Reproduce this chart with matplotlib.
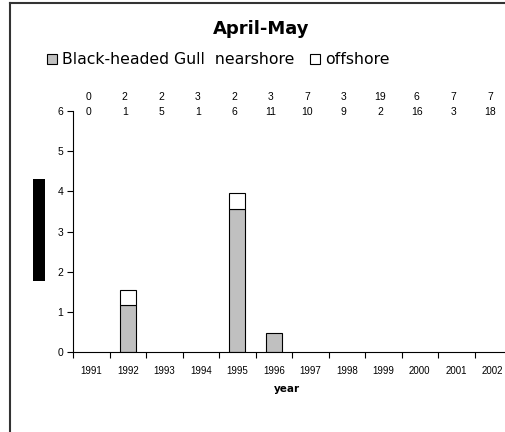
import matplotlib
matplotlib.use("Agg")
import matplotlib.pyplot as plt
from matplotlib.patches import Patch, Rectangle
from matplotlib.lines import Line2D
import matplotlib.transforms as mtransforms

years = ["1991", "1992", "1993", "1994", "1995", "1996", "1997", "1998", "1999", "2000", "2001", "2002"]
nearshore = [0, 1.17, 0, 0, 3.57, 0.48, 0, 0, 0, 0, 0, 0]
offshore = [0, 0.37, 0, 0, 0.39, 0, 0, 0, 0, 0, 0, 0]
top_row1 = ["0", "2", "2", "3", "2", "3", "7", "3", "19", "6", "7", "7"]
top_row2 = ["0", "1", "5", "1", "6", "11", "10", "9", "2", "16", "3", "18"]
yticks = [0, 1, 2, 3, 4, 5, 6]

plt.rcParams['font.family'] = ['Liberation Sans', 'DejaVu Sans']
WIDE = ['DejaVu Sans']

W, H = 505, 432
fig = plt.figure(figsize=(W / 100, H / 100), dpi=100)
ax = fig.add_axes([73 / W, 80 / H, 438 / W, 241 / H])

x = list(range(len(years)))
bw = 0.43
ax.bar(x, nearshore, width=bw, color="#C0C0C0", edgecolor="black", linewidth=0.8, zorder=2)
ax.bar(x, offshore, width=bw, bottom=nearshore, color="white", edgecolor="black", linewidth=0.8, zorder=2)
for p in ax.patches:
    if p.get_height() == 0:
        p.set_visible(False)

ax.set_xlim(-0.5, len(years) - 0.5)
ax.set_ylim(0, 6)
ax.set_yticks(yticks)
ax.set_yticklabels([str(v) for v in yticks], fontsize=7.5)
ax.set_xticks(x)
ax.set_xticklabels(years, fontsize=7)
ax.set_xticks([i - 0.5 for i in range(len(years) + 1)], minor=True)
ax.tick_params(axis='x', which='major', length=0, pad=10)
ax.tick_params(axis='x', which='minor', length=4, direction='out', width=0.8)
ax.tick_params(axis='y', length=4, direction='out', width=0.8, pad=3)
for s in ['top', 'right']:
    ax.spines[s].set_visible(False)
for s in ['left', 'bottom']:
    ax.spines[s].set_linewidth(0.8)

trans = mtransforms.blended_transform_factory(ax.transData, ax.transAxes)
for i in x:
    ax.text(i - 0.08, (352 - 97) / 241, top_row1[i], transform=trans, ha='center', va='center', fontsize=7.5, clip_on=False)
    ax.text(i - 0.08, (352 - 112) / 241, top_row2[i], transform=trans, ha='center', va='center', fontsize=7.5, clip_on=False)

fig.text(261 / W, 1 - 29 / H, "April-May", fontsize=13, fontweight='bold', ha='center', va='center', family=WIDE)
fig.text(287 / W, 1 - 389 / H, "year", fontsize=7.5, fontweight='bold', ha='center', va='center', family=WIDE)

handles = [Patch(facecolor="#C0C0C0", edgecolor="black", linewidth=0.8),
           Patch(facecolor="white", edgecolor="black", linewidth=0.8)]
leg = fig.legend(handles, ["Black-headed Gull  nearshore", "offshore"], loc='center left',
                 bbox_to_anchor=(47 / W, 1 - 60 / H), ncol=2, frameon=False,
                 prop={'family': WIDE, 'size': 11.3},
                 handlelength=0.62, handleheight=0.62, handletextpad=0.35, columnspacing=1.0,
                 borderpad=0, borderaxespad=0)

fig.patches.append(Rectangle((33 / W, (H - 281) / H), 12 / W, 102 / H, transform=fig.transFigure,
                             facecolor='black', edgecolor='none'))
fig.lines.append(Line2D([10 / W, 10 / W], [0, 1 - 3 / H], transform=fig.transFigure, color='#333333', linewidth=1.5))
fig.lines.append(Line2D([10 / W, 1], [1 - 3 / H, 1 - 3 / H], transform=fig.transFigure, color='#333333', linewidth=1.5))

fig.savefig("out.png", dpi=100)
